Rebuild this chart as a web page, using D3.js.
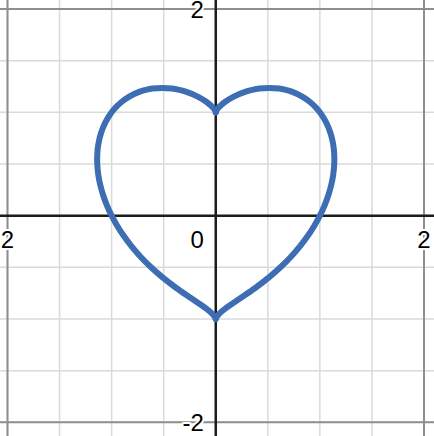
<!DOCTYPE html>
<html>
<head>
<meta charset="utf-8">
<script src="https://cdn.jsdelivr.net/npm/d3@7"></script>
<style>
  html, body { margin: 0; padding: 0; background: #fff; }
  svg { display: block; }
  text { font-family: "Liberation Sans", Arial, sans-serif; }
</style>
</head>
<body>
<svg id="chart" width="434" height="436"></svg>
<script>
// ---- data ----
const xTickLabels = [-2, 0, 2];
const yTickLabels = [2, -2];
const minorGrid = [-2, -1.5, -1, -0.5, 0.5, 1, 1.5, 2];
const majorGrid = [-2, 2];

// right branch: bottom cusp -> outer edge -> lobe -> top cusp
const rightX = [0, 0.0081, 0.0323, 0.0908, 0.2352, 0.3788, 0.5079, 0.6213, 0.7201, 0.8063, 0.881, 0.9455, 1.0,
  1.0455, 1.082, 1.1098, 1.1287, 1.138, 1.1375, 1.126, 1.1016, 1.0613, 1.0, 0.958, 0.9051, 0.835, 0.730,
  0.6628, 0.609, 0.514, 0.4178, 0.3613, 0.2874, 0.1686, 0.0881, 0.0309, 0.0079, 0];
const rightY = [-1, -0.98, -0.95, -0.9, -0.8, -0.7, -0.6, -0.5, -0.4, -0.3, -0.2, -0.1, 0,
  0.1, 0.2, 0.3, 0.4, 0.5, 0.6, 0.7, 0.8, 0.9, 1.0, 1.05, 1.1, 1.15, 1.2,
  1.22, 1.23, 1.2365, 1.23, 1.22, 1.2, 1.15, 1.1, 1.05, 1.02, 1.0];
// left branch: bottom cusp -> outer edge -> lobe -> top cusp
const leftX = [0, -0.0081, -0.0323, -0.0908, -0.2352, -0.3788, -0.5079, -0.6213, -0.7201, -0.8063, -0.881, -0.9455, -1.0,
  -1.0455, -1.082, -1.1098, -1.1287, -1.138, -1.1375, -1.126, -1.1016, -1.0613, -1.0, -0.958, -0.9051, -0.835, -0.730,
  -0.6628, -0.609, -0.514, -0.4178, -0.3613, -0.2874, -0.1686, -0.0881, -0.0309, -0.0079, 0];
const leftY = [-1, -0.98, -0.95, -0.9, -0.8, -0.7, -0.6, -0.5, -0.4, -0.3, -0.2, -0.1, 0,
  0.1, 0.2, 0.3, 0.4, 0.5, 0.6, 0.7, 0.8, 0.9, 1.0, 1.05, 1.1, 1.15, 1.2,
  1.22, 1.23, 1.2365, 1.23, 1.22, 1.2, 1.15, 1.1, 1.05, 1.02, 1.0];

// ---- drawing ----
const W = 434, H = 436;
const svg = d3.select("#chart");
const xs = d3.scaleLinear().domain([-2, 2]).range([7.5, 424]);
const ys = d3.scaleLinear().domain([-2, 2]).range([422.3, 9]);

const g = svg.append("g");

// minor grid
g.selectAll("line.vminor").data(minorGrid).join("line")
  .attr("x1", d => xs(d)).attr("x2", d => xs(d)).attr("y1", 0).attr("y2", H)
  .attr("stroke", "#dadada").attr("stroke-width", 1.5);
g.selectAll("line.hminor").data(minorGrid).join("line")
  .attr("y1", d => ys(d)).attr("y2", d => ys(d)).attr("x1", 0).attr("x2", W)
  .attr("stroke", "#dadada").attr("stroke-width", 1.5);

// major grid
g.selectAll("line.vmajor").data(majorGrid).join("line")
  .attr("x1", d => xs(d)).attr("x2", d => xs(d)).attr("y1", 0).attr("y2", H)
  .attr("stroke", "#8e8e8e").attr("stroke-width", 2);
g.selectAll("line.hmajor").data(majorGrid).join("line")
  .attr("y1", d => ys(d)).attr("y2", d => ys(d)).attr("x1", 0).attr("x2", W)
  .attr("stroke", "#8e8e8e").attr("stroke-width", 2);

// axes
g.append("line").attr("x1", 0).attr("x2", W).attr("y1", ys(0)).attr("y2", ys(0))
  .attr("stroke", "#1c1c1c").attr("stroke-width", 2.5);
g.append("line").attr("x1", xs(0)).attr("x2", xs(0)).attr("y1", 0).attr("y2", H)
  .attr("stroke", "#1c1c1c").attr("stroke-width", 2.5);

// labels
const fs = 24;
const digitHalf = 6.7;
function label(sel) {
  return sel.attr("font-size", fs).attr("fill", "#000")
    .attr("stroke", "#fff").attr("stroke-width", 4).attr("stroke-linejoin", "round")
    .attr("paint-order", "stroke");
}
label(g.selectAll("text.xl").data(xTickLabels).join("text")
  .attr("x", d => d === 0 ? xs(0) - 12 : (d < 0 ? xs(d) + digitHalf : xs(d)))
  .attr("y", ys(0) + 32.5)
  .attr("text-anchor", d => d === 0 ? "end" : (d < 0 ? "end" : "middle"))
  .text(d => d < 0 ? "-" + Math.abs(d) : String(d)));
label(g.selectAll("text.yl").data(yTickLabels).join("text")
  .attr("x", xs(0) - 12)
  .attr("y", d => ys(d) + 8.5)
  .attr("text-anchor", "end")
  .text(d => d < 0 ? "-" + Math.abs(d) : String(d)));

// heart curve
const line = d3.line().x(d => xs(d[0])).y(d => ys(d[1])).curve(d3.curveCatmullRom.alpha(0.5));
const rightPts = rightX.map((x, i) => [x, rightY[i]]);
const leftPts = leftX.map((x, i) => [x, leftY[i]]);
[rightPts, leftPts].forEach(pts => {
  g.append("path").attr("d", line(pts))
    .attr("fill", "none").attr("stroke", "#3d6db2").attr("stroke-width", 6)
    .attr("stroke-linecap", "round").attr("stroke-linejoin", "round");
});
</script>
</body>
</html>
